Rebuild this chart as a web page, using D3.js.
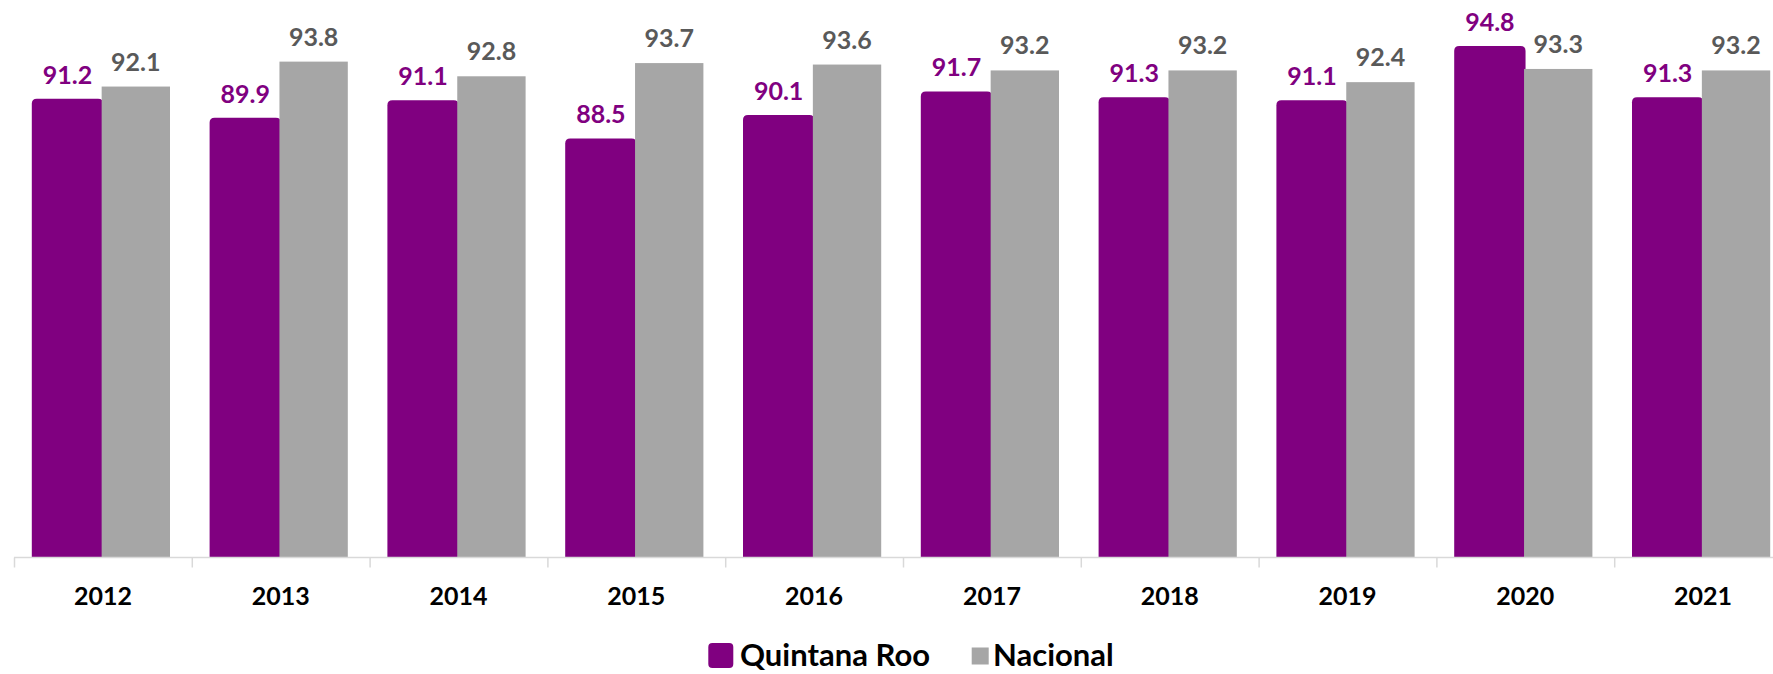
<!DOCTYPE html>
<html>
<head>
<meta charset="utf-8">
<script src="https://cdn.jsdelivr.net/npm/d3@7"></script>
<style>
  html, body { margin: 0; padding: 0; background: #fff; }
  svg { display: block; font-family: Lato, "Open Sans", sans-serif; }
</style>
</head>
<body>
<div id="chart"></div>
<script>
// datos
var years = ['2012','2013','2014','2015','2016','2017','2018','2019','2020','2021'];
var quintanaRoo = [91.2, 89.9, 91.1, 88.5, 90.1, 91.7, 91.3, 91.1, 94.8, 91.3];
var nacional = [92.1, 93.8, 92.8, 93.7, 93.6, 93.2, 93.2, 92.4, 93.3, 93.2];
var seriesNames = ['Quintana Roo', 'Nacional'];
var seriesColors = ['#800080', '#a6a6a6'];
var labelColors = ['#800080', '#595959'];

var width = 1773, height = 674;
var axisY = 557.5;

var svg = d3.select('#chart').append('svg')
    .attr('width', width)
    .attr('height', height);

var x0 = d3.scaleBand()
    .domain(years)
    .range([14, 14 + 177.8 * years.length])
    .padding(0);

var x1 = d3.scaleBand()
    .domain(seriesNames)
    .range([19.3, 156])
    .padding(0);

var y = d3.scaleLinear()
    .domain([60, 98])
    .range([axisY, 0]);

var rows = years.map(function(yr, i) {
    return { year: yr, values: [quintanaRoo[i], nacional[i]] };
});

var groups = svg.selectAll('g.year')
    .data(rows)
    .enter().append('g')
    .attr('class', 'year')
    .attr('transform', function(d) { return 'translate(' + x0(d.year) + ',0)'; });

// barras moradas con esquinas superiores redondeadas
groups.append('path')
    .attr('fill', seriesColors[0])
    .attr('d', function(d) {
        var xs = x1(seriesNames[0]) - 1.5, w = x1.bandwidth() + 3;
        var top = y(d.values[0]) - 1, r = 5;
        return 'M' + xs + ',' + axisY +
            'V' + (top + r) +
            'Q' + xs + ',' + top + ' ' + (xs + r) + ',' + top +
            'H' + (xs + w - r) +
            'Q' + (xs + w) + ',' + top + ' ' + (xs + w) + ',' + (top + r) +
            'V' + axisY + 'Z';
    });

// barras grises
groups.append('rect')
    .attr('x', x1(seriesNames[1]))
    .attr('width', x1.bandwidth())
    .attr('y', function(d) { return y(d.values[1]); })
    .attr('height', function(d) { return axisY - y(d.values[1]); })
    .attr('fill', seriesColors[1]);

// etiquetas de valores
seriesNames.forEach(function(name, k) {
    groups.append('text')
        .attr('x', x1(name) + x1.bandwidth() / 2)
        .attr('y', function(d) { return y(d.values[k]) - 16; })
        .attr('text-anchor', 'middle')
        .style('font-size', '25px')
        .style('font-weight', 'bold')
        .attr('fill', labelColors[k])
        .text(function(d) { return d.values[k].toFixed(1); });
});

// eje x
var axis = svg.append('g');
axis.append('line')
    .attr('x1', x0.range()[0]).attr('x2', x0.range()[1])
    .attr('y1', axisY).attr('y2', axisY)
    .attr('stroke', '#d9d9d9').attr('stroke-width', 1.5);

axis.selectAll('line.tick')
    .data(years)
    .enter().append('line')
    .attr('class', 'tick')
    .attr('x1', function(d) { return x0(d) + 0.5; })
    .attr('x2', function(d) { return x0(d) + 0.5; })
    .attr('y1', axisY).attr('y2', axisY + 10)
    .attr('stroke', '#d9d9d9').attr('stroke-width', 1.5);

axis.selectAll('text.year')
    .data(years)
    .enter().append('text')
    .attr('class', 'year')
    .attr('x', function(d) { return x0(d) + x0.bandwidth() / 2; })
    .attr('y', 605)
    .attr('text-anchor', 'middle')
    .style('font-size', '25px')
    .style('font-weight', 'bold')
    .attr('fill', '#000')
    .text(function(d) { return d; });

// leyenda (un poco mas arriba para que no se corte)
var legend = svg.append('g');
legend.append('rect')
    .attr('x', 708.3).attr('y', 643)
    .attr('width', 25).attr('height', 25)
    .attr('rx', 4)
    .attr('fill', seriesColors[0]);
legend.append('text')
    .attr('x', 740).attr('y', 666)
    .style('font-size', '31px').style('font-weight', 'bold')
    .attr('fill', '#000')
    .text(seriesNames[0]);
legend.append('rect')
    .attr('x', 971.7).attr('y', 647.5)
    .attr('width', 17).attr('height', 17)
    .attr('fill', seriesColors[1]);
legend.append('text')
    .attr('x', 993).attr('y', 666)
    .style('font-size', '31px').style('font-weight', 'bold')
    .attr('fill', '#000')
    .text(seriesNames[1]);
</script>
</body>
</html>
